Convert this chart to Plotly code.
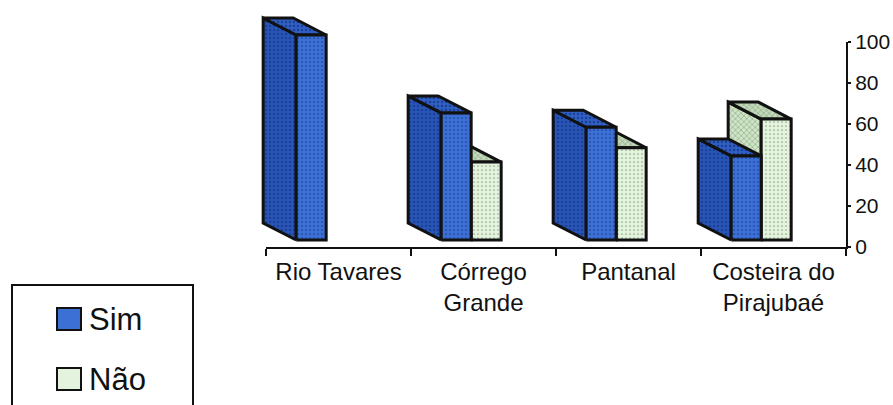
import plotly.graph_objects as go

# ---- data -------------------------------------------------------------
categories = ["Rio Tavares", "Córrego<br>Grande", "Pantanal", "Costeira do<br>Pirajubaé"]
sim = [100, 62, 55, 41]
nao = [0, 38, 45, 59]
y_ticks = [0, 20, 40, 60, 80, 100]
series_names = ["Sim", "Não"]

# ---- page / frame geometry (pixels) ----------------------------------
W, H = 893, 405
X_LEFT, X_RIGHT = 266, 846          # category axis extent
Y_AXIS_ZERO, Y_AXIS_TOP = 247, 42   # value axis: 0 and 100
FRONT_BASE = 240                    # baseline of the bars' front faces
PX_Y = (Y_AXIS_ZERO - Y_AXIS_TOP) / 100.0
PX_X = (X_RIGHT - X_LEFT) / len(categories)

# bar geometry in axis units
BW = 30 / PX_X          # front face width
C_OFF = -0.085          # cluster centre offset from the category centre
DX = -33 / PX_X         # oblique depth (to the left)
DY = 17 / PX_Y          # oblique depth (upwards)

FONT = "Arial, 'Liberation Sans', Helvetica, sans-serif"
EDGE = "#111111"

colors = {
    "Sim": {"front": "#3c70d4", "top": "#3060c4", "side": "#2755b8", "dot": "#1d3f94"},
    "Não": {"front": "#e4f3de", "top": "#c3d9bc", "side": "#d0e4c8", "dot": "#8eab86"},
}


def bar_faces(values, side):
    """Polygons (front, top, left side) for one series of oblique 3-D columns."""
    fx, fy, tx, ty, sx, sy = [], [], [], [], [], []
    for i, v in enumerate(values):
        if v <= 0:
            continue
        if side < 0:
            x0, x1 = i + C_OFF - BW, i + C_OFF
        else:
            x0, x1 = i + C_OFF, i + C_OFF + BW
        fx += [x0, x1, x1, x0, x0, None]
        fy += [0, 0, v, v, 0, None]
        tx += [x0, x1, x1 + DX, x0 + DX, x0, None]
        ty += [v, v, v + DY, v + DY, v, None]
        sx += [x0, x0 + DX, x0 + DX, x0, x0, None]
        sy += [0, DY, v + DY, v, 0, None]
    return (fx, fy), (tx, ty), (sx, sy)


fig = go.Figure()

# empty traces so the visible frame axes get a subplot of their own
fig.add_trace(go.Scatter(x=[], y=[], xaxis="x", yaxis="y", showlegend=False))
fig.add_trace(go.Scatter(x=[], y=[], xaxis="x3", yaxis="y", showlegend=False))

# the right-hand series sits behind, so it is drawn first
for name, vals, side in [("Não", nao, 1), ("Sim", sim, -1)]:
    front, top, sidef = bar_faces(vals, side)
    c = colors[name]
    for (xs, ys), face, pat, sol in [(sidef, "side", "x" if name == "Não" else ".", 0.3),
                                     (top, "top", "x" if name == "Não" else ".", 0.3),
                                     (front, "front", ".", 0.15)]:
        fig.add_trace(go.Scatter(
            x=xs, y=ys, xaxis="x2", yaxis="y2",
            mode="lines", fill="toself",
            fillcolor=c[face],
            fillpattern=dict(shape=pat, fgcolor=c["dot"], bgcolor=c[face],
                             size=4, solidity=sol),
            line=dict(color=EDGE, width=3),
            name=name, showlegend=False, hoverinfo="skip",
        ))

# ---- axes ------------------------------------------------------------
x_dom = [X_LEFT / W, X_RIGHT / W]
y_dom = [(H - Y_AXIS_ZERO) / H, (H - Y_AXIS_TOP) / H]

# hidden full-page axes that carry the 3-D bars (same scale as visible ones)
x2_lo = -0.5 - X_LEFT / PX_X
x2_hi = -0.5 + (W - X_LEFT) / PX_X
y2_lo = -(H - FRONT_BASE) / PX_Y
y2_hi = y2_lo + H / PX_Y

fig.update_layout(
    template="none",
    width=W, height=H,
    margin=dict(l=0, r=0, t=0, b=0, pad=0),
    paper_bgcolor="white", plot_bgcolor="rgba(0,0,0,0)",
    showlegend=False,
    font=dict(family=FONT, color="#111111"),
    xaxis=dict(domain=x_dom, range=[-0.5, len(categories) - 0.5], anchor="y",
               showline=True, linecolor=EDGE, linewidth=2, automargin=False,
               tickvals=[k - 0.5 for k in range(len(categories) + 1)],
               ticks="outside", ticklen=7, tickwidth=2, tickcolor=EDGE,
               showticklabels=False, showgrid=False, zeroline=False, fixedrange=True),
    xaxis3=dict(overlaying="x", anchor="y", side="bottom", automargin=False,
                range=[-0.5, len(categories) - 0.5],
                tickvals=list(range(len(categories))), ticktext=categories,
                ticks="", showline=False, showgrid=False, zeroline=False,
                tickfont=dict(size=24, family=FONT, color="#111111"),
                ticklabelstandoff=8),
    yaxis=dict(domain=y_dom, range=[0, 100], anchor="x", side="right",
               automargin=False,
               tickvals=y_ticks, ticks="outside", ticklen=3, tickwidth=2,
               tickcolor=EDGE, showline=True, linecolor=EDGE, linewidth=2,
               tickfont=dict(size=21, family=FONT, color="#111111"),
               showgrid=False, zeroline=False),
    xaxis2=dict(domain=[0, 1], range=[x2_lo, x2_hi], anchor="y2", visible=False,
                automargin=False),
    yaxis2=dict(domain=[0, 1], range=[y2_lo, y2_hi], anchor="x2", visible=False,
                automargin=False),
)

# ---- legend (box, swatches and labels) --------------------------------
def px(x):
    return x / W


def py(y):
    return 1 - y / H


fig.add_shape(type="rect", xref="paper", yref="paper",
              x0=px(12), x1=px(193), y0=py(430), y1=py(285),
              line=dict(color=EDGE, width=2), fillcolor="rgba(0,0,0,0)")
for k, name in enumerate(series_names):
    yc = 319 + 60 * k
    fig.add_shape(type="rect", xref="paper", yref="paper",
                  x0=px(57), x1=px(81), y0=py(yc + 11), y1=py(yc - 11),
                  line=dict(color=EDGE, width=2),
                  fillcolor=colors[name]["front"])
    fig.add_annotation(xref="paper", yref="paper", x=px(87), y=py(yc),
                       xanchor="left", yanchor="middle", showarrow=False,
                       text=name, font=dict(size=31, family=FONT, color="#111111"))

fig.write_html("out.html")
